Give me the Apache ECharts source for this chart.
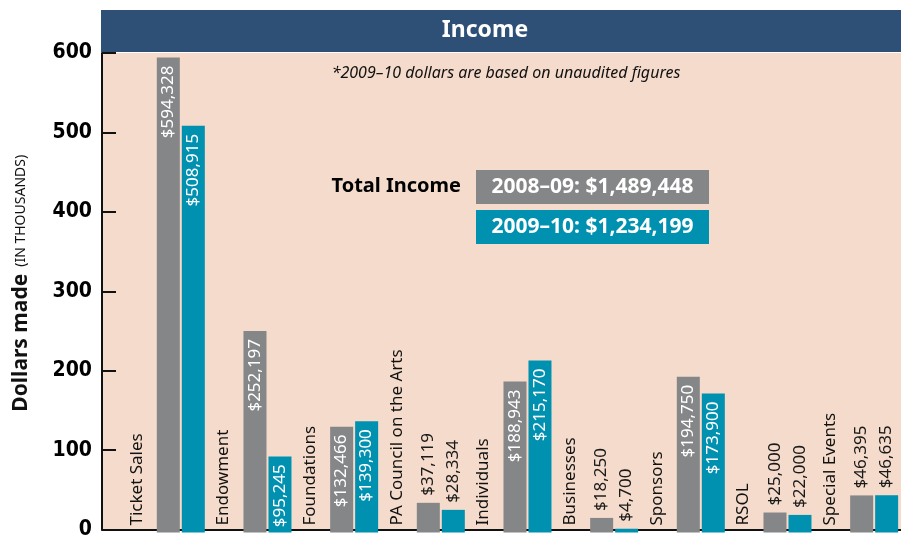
<!DOCTYPE html>
<html><head><meta charset="utf-8">
<script src="https://cdn.jsdelivr.net/npm/echarts@6/dist/echarts.min.js"></script>
<style>html,body{margin:0;padding:0;background:#fff}#c{width:901px;height:540px}</style>
</head><body><div id="c"></div>
<script>
var categories = ['Ticket Sales','Endowment','Foundations','PA Council on the Arts','Individuals','Businesses','Sponsors','RSOL','Special Events'];
var values0809 = [594328, 252197, 132466, 37119, 188943, 18250, 194750, 25000, 46395];
var values0910 = [508915, 95245, 139300, 28334, 215170, 4700, 173900, 22000, 46635];
var labelBase = [0,0,0,0,0,0,0,0,0];
var yTicks = [0,100,200,300,400,500,600];
var totals = {y0809: '2008–09: $1,489,448', y0910: '2009–10: $1,234,199'};

var GREY = '#858688', TEAL = '#0091b1', PEACH = '#f4dbcb', NAVY = '#2e5077';
var FONT = '"Noto Sans", "Open Sans", sans-serif';

function fmt(v){ return '$' + v.toLocaleString('en-US'); }
function barData(vals){
  return vals.map(function(v){
    var k = v/1000;
    var inside = k >= 90;
    return {
      value: k,
      label: inside ? {
        show: true, position: 'insideTop', rotate: 90, align: 'right', verticalAlign: 'middle',
        distance: 8, color: '#fff', fontSize: 17, fontFamily: FONT, formatter: fmt(v)
      } : {
        show: true, position: 'top', rotate: 90, align: 'left', verticalAlign: 'middle',
        distance: 7, color: '#1a1a1a', fontSize: 17, fontFamily: FONT, formatter: fmt(v)
      }
    };
  });
}

var chart = echarts.init(document.getElementById('c'), null, {renderer:'canvas'});
chart.setOption({
  animation: false,
  backgroundColor: '#fff',
  grid: [
    {left: 119, right: 2, top: 53, bottom: 7.5},
    {left: 102, right: 0, top: 53, bottom: 7.5, show: true, backgroundColor: PEACH, borderWidth: 0}
  ],
  xAxis: [
    {type: 'category', gridIndex: 0, data: categories, axisLine:{show:false}, axisTick:{show:false}, axisLabel:{show:false}},
    {type: 'value', gridIndex: 1, min: 0, max: 1, axisLine:{show:true, onZero:false, lineStyle:{color:'#111', width:2}},
     axisTick:{show:false}, axisLabel:{show:false}, splitLine:{show:false}}
  ],
  yAxis: [
    {type: 'value', gridIndex: 0, min: 0, max: 600, show: false},
    {type: 'value', gridIndex: 1, min: 0, max: 600, interval: 100,
     axisLine:{show:true, lineStyle:{color:'#111', width:2}},
     axisTick:{show:true, inside:true, length:14, lineStyle:{color:'#111', width:2}},
     axisLabel:{margin: 10, color:'#000', fontSize: 21, fontWeight:'bold',
       fontFamily:'"DejaVu Sans Condensed", "Liberation Sans Narrow", "Roboto Condensed", "Roboto", sans-serif',
       formatter: function(v){ return yTicks.indexOf(v) >= 0 ? String(v) : ''; }},
     splitLine:{show:false},
     name: '{a|Dollars made}{b|(IN THOUSANDS)}',
     nameLocation: 'middle', nameGap: 70, nameRotate: 90,
     nameTextStyle: {padding:[0,0,0,16], rich: {
       a: {fontSize: 21, fontWeight: 'bold', color:'#111', fontFamily: FONT},
       b: {fontSize: 14, color:'#111', fontFamily: FONT, padding:[0,0,0,7]}
     }}}
  ],
  series: [
    {type:'bar', name:'label', xAxisIndex:0, yAxisIndex:0, data: labelBase, barWidth: 34, barGap: '8.7%',
     itemStyle:{color:'rgba(0,0,0,0)'},
     label:{show:true, position:'insideBottom', rotate:90, align:'left', verticalAlign:'middle', distance:7,
       color:'#111', fontSize:17, fontFamily: FONT,
       formatter: function(p){ return categories[p.dataIndex]; }}},
    {type:'bar', name:'2008–09', xAxisIndex:0, yAxisIndex:0, data: barData(values0809), barWidth: 23, itemStyle:{color: GREY}},
    {type:'bar', name:'2009–10', xAxisIndex:0, yAxisIndex:0, data: barData(values0910), barWidth: 23, itemStyle:{color: TEAL}}
  ],
  graphic: [
    {type:'rect', z: 10, shape:{x: 101, y: 10, width: 800, height: 42}, style:{fill: NAVY}},
    {type:'text', z: 11,
     style:{text:'Income', x: 485, y: 30, align:'center', verticalAlign:'middle', fill:'#fff',
       font: 'bold 23px ' + FONT}},
    {type:'text', z: 11, style:{text:'*2009–10 dollars are based on unaudited figures', x: 506, y: 73,
       align:'center', verticalAlign:'middle', fill:'#111', font:'italic 16px ' + FONT}},
    {type:'text', z: 11, style:{text:'Total Income', x: 461, y: 186, align:'right', verticalAlign:'middle',
       fill:'#000', font:'bold 20px ' + FONT}},
    {type:'rect', z: 10, shape:{x: 476, y: 170, width: 233, height: 34}, style:{fill: GREY}},
    {type:'text', z: 11, style:{text: totals.y0809, x: 592.5, y: 187, align:'center', verticalAlign:'middle',
       fill:'#fff', font:'bold 21px ' + FONT}},
    {type:'rect', z: 10, shape:{x: 476, y: 210, width: 233, height: 34}, style:{fill: TEAL}},
    {type:'text', z: 11, style:{text: totals.y0910, x: 592.5, y: 227, align:'center', verticalAlign:'middle',
       fill:'#fff', font:'bold 21px ' + FONT}}
  ]
});
</script></body></html>
